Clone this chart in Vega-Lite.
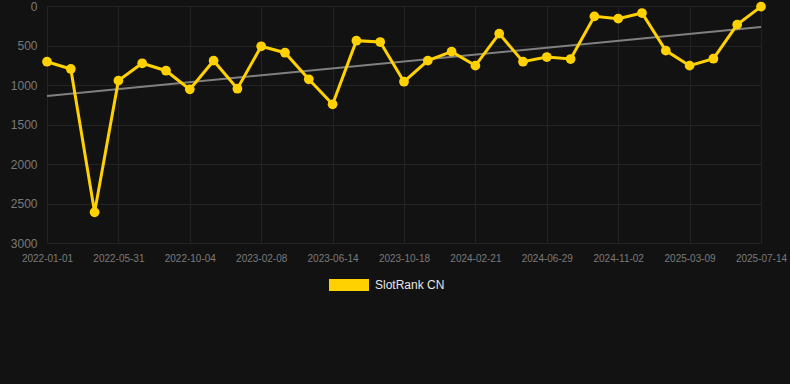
{
  "$schema": "https://vega.github.io/schema/vega-lite/v6.json",
  "width": 714,
  "height": 237,
  "autosize": "none",
  "padding": {"left": 47, "top": 6, "right": 29, "bottom": 141},
  "background": "#121212",
  "config": {
    "view": {"stroke": null},
    "font": "Liberation Sans",
    "axis": {"gridColor": "#232323", "gridWidth": 1, "domain": false, "ticks": false, "labelColor": "#7a7a7a", "labelFont": "Liberation Sans"}
  },
  "datasets": {
    "rank": [
      {"date": "2022-01-01", "rank": 705, "series": "SlotRank CN"},
      {"date": "2022-02-20", "rank": 797, "series": "SlotRank CN"},
      {"date": "2022-04-11", "rank": 2611, "series": "SlotRank CN"},
      {"date": "2022-05-31", "rank": 945, "series": "SlotRank CN"},
      {"date": "2022-07-12", "rank": 725, "series": "SlotRank CN"},
      {"date": "2022-08-23", "rank": 819, "series": "SlotRank CN"},
      {"date": "2022-10-04", "rank": 1055, "series": "SlotRank CN"},
      {"date": "2022-11-15", "rank": 692, "series": "SlotRank CN"},
      {"date": "2022-12-28", "rank": 1047, "series": "SlotRank CN"},
      {"date": "2023-02-08", "rank": 510, "series": "SlotRank CN"},
      {"date": "2023-03-22", "rank": 591, "series": "SlotRank CN"},
      {"date": "2023-05-03", "rank": 928, "series": "SlotRank CN"},
      {"date": "2023-06-14", "rank": 1244, "series": "SlotRank CN"},
      {"date": "2023-07-26", "rank": 439, "series": "SlotRank CN"},
      {"date": "2023-09-06", "rank": 456, "series": "SlotRank CN"},
      {"date": "2023-10-18", "rank": 958, "series": "SlotRank CN"},
      {"date": "2023-11-29", "rank": 692, "series": "SlotRank CN"},
      {"date": "2024-01-10", "rank": 578, "series": "SlotRank CN"},
      {"date": "2024-02-21", "rank": 755, "series": "SlotRank CN"},
      {"date": "2024-04-03", "rank": 350, "series": "SlotRank CN"},
      {"date": "2024-05-16", "rank": 705, "series": "SlotRank CN"},
      {"date": "2024-06-29", "rank": 646, "series": "SlotRank CN"},
      {"date": "2024-08-10", "rank": 671, "series": "SlotRank CN"},
      {"date": "2024-09-21", "rank": 131, "series": "SlotRank CN"},
      {"date": "2024-11-02", "rank": 160, "series": "SlotRank CN"},
      {"date": "2024-12-14", "rank": 89, "series": "SlotRank CN"},
      {"date": "2025-01-25", "rank": 565, "series": "SlotRank CN"},
      {"date": "2025-03-09", "rank": 755, "series": "SlotRank CN"},
      {"date": "2025-04-20", "rank": 667, "series": "SlotRank CN"},
      {"date": "2025-06-01", "rank": 236, "series": "SlotRank CN"},
      {"date": "2025-07-14", "rank": 8, "series": "SlotRank CN"}
    ],
    "trend": [
      {"date": "2022-01-01", "rank": 1139},
      {"date": "2025-07-14", "rank": 266}
    ]
  },
  "encoding": {
    "x": {
      "field": "date", "type": "ordinal",
      "scale": {"type": "point", "padding": 0, "domain": ["2022-01-01", "2022-02-20", "2022-04-11", "2022-05-31", "2022-07-12", "2022-08-23", "2022-10-04", "2022-11-15", "2022-12-28", "2023-02-08", "2023-03-22", "2023-05-03", "2023-06-14", "2023-07-26", "2023-09-06", "2023-10-18", "2023-11-29", "2024-01-10", "2024-02-21", "2024-04-03", "2024-05-16", "2024-06-29", "2024-08-10", "2024-09-21", "2024-11-02", "2024-12-14", "2025-01-25", "2025-03-09", "2025-04-20", "2025-06-01", "2025-07-14"]},
      "sort": null,
      "axis": {
        "title": null, "labelAngle": 0, "labelFontSize": 10, "labelPadding": 10, "grid": true,
        "values": ["2022-01-01", "2022-05-31", "2022-10-04", "2023-02-08", "2023-06-14", "2023-10-18", "2024-02-21", "2024-06-29", "2024-11-02", "2025-03-09", "2025-07-14"]
      }
    },
    "y": {
      "field": "rank", "type": "quantitative",
      "scale": {"domain": [0, 3000], "reverse": true, "nice": false, "zero": false},
      "axis": {"title": null, "values": [0, 500, 1000, 1500, 2000, 2500, 3000], "format": "d", "labelFontSize": 12, "labelPadding": 10, "grid": true}
    }
  },
  "layer": [
    {
      "data": {"name": "trend"},
      "mark": {"type": "line", "color": "#808080", "strokeWidth": 2}
    },
    {
      "data": {"name": "rank"},
      "mark": {"type": "line", "color": "#FFD100", "strokeWidth": 3}
    },
    {
      "data": {"name": "rank"},
      "mark": {"type": "point", "filled": true, "size": 95, "opacity": 1},
      "encoding": {
        "fill": {
          "field": "series", "type": "nominal",
          "scale": {"range": ["#FFD100"]},
          "legend": {
            "title": null, "orient": "none", "legendX": 282, "legendY": 259,
            "symbolType": "M-1,-0.3H1V0.3H-1Z", "symbolSize": 1600, "symbolStrokeWidth": 0,
            "labelColor": "#e6e6e6", "labelFontSize": 12, "labelFont": "Liberation Sans", "labelOffset": 6
          }
        }
      }
    }
  ]
}
